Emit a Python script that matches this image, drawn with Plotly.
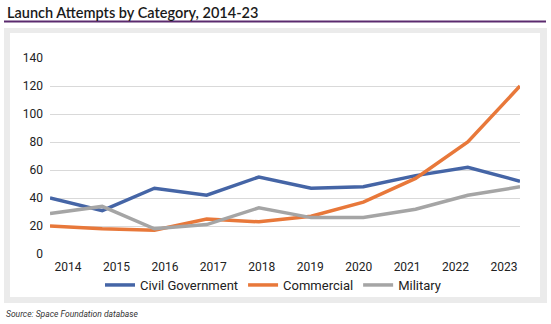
import plotly.graph_objects as go

# Launch attempts by category, 2014-2023
years = [2014, 2015, 2016, 2017, 2018, 2019, 2020, 2021, 2022, 2023]
civil_government = [40, 31, 47, 42, 55, 47, 48, 56, 62, 52]
commercial = [20, 18, 17, 25, 23, 27, 37, 54, 80, 120]
military = [29, 34, 18, 21, 33, 26, 26, 32, 42, 48]
y_ticks = [0, 20, 40, 60, 80, 100, 120, 140]

W, H = 551, 324
L, R, T, B = 50, 31, 58, 70
PW, PH = W - L - R, H - T - B


def px(x):
    return (x - L) / PW


def py(y):
    return (H - B - y) / PH


TICK_FONT = dict(family="Liberation Sans Narrow, Roboto, sans-serif", size=12, color="#222222")

fig = go.Figure()
series = [
    ("Civil Government", civil_government, "#4565A6"),
    ("Commercial", commercial, "#E8783A"),
    ("Military", military, "#A5A5A5"),
]
for name, vals, color in series:
    fig.add_trace(go.Scatter(
        x=years, y=vals, name=name, mode="lines",
        line=dict(color=color, width=3.5),
    ))

# year labels sit on their own axis beneath the plot
fig.add_trace(go.Scatter(x=years, y=[None] * len(years), xaxis="x2",
                         showlegend=False, hoverinfo="skip"))

fig.update_layout(
    width=W, height=H,
    margin=dict(l=L, r=R, t=T, b=B),
    paper_bgcolor="white",
    plot_bgcolor="rgba(0,0,0,0)",
    showlegend=True,
    legend=dict(
        orientation="h", x=px(100), xanchor="left", y=py(285), yanchor="middle",
        font=dict(family="Liberation Sans Narrow, Roboto, sans-serif", size=13, color="#222222"),
        bgcolor="rgba(0,0,0,0)", itemwidth=30, tracegroupgap=0,
    ),
    xaxis=dict(
        range=[2014, 2023], showgrid=False, zeroline=False,
        showticklabels=False, showline=False, fixedrange=True,
    ),
    xaxis2=dict(
        overlaying="x", anchor="y", side="bottom",
        range=[2013.6284, 2023.3303],
        tickvals=years, ticktext=[str(y) for y in years],
        showgrid=False, zeroline=False, showline=False,
        tickfont=TICK_FONT, ticks="", ticklabelstandoff=4,
    ),
    yaxis=dict(
        range=[0, 140], tickvals=y_ticks,
        showgrid=True, gridcolor="#D9D9D9", gridwidth=1,
        zeroline=False, showline=False, ticks="",
        tickfont=TICK_FONT, ticklabelstandoff=6,
    ),
    shapes=[
        dict(type="rect", xref="paper", yref="paper", layer="below",
             x0=px(4), x1=px(547), y0=py(303), y1=py(28),
             fillcolor="#EBEBEB", line=dict(width=0)),
        dict(type="rect", xref="paper", yref="paper", layer="below",
             x0=px(10), x1=px(540), y0=py(297), y1=py(33),
             fillcolor="#FFFFFF", line=dict(width=0)),
        dict(type="line", xref="paper", yref="paper",
             x0=px(4), x1=px(546), y0=py(21.5), y1=py(21.5),
             line=dict(color="#5B2A6E", width=2)),
    ],
    annotations=[
        dict(text="Launch Attempts by Category, 2014-23", xref="paper", yref="paper",
             x=px(5), y=py(12), xanchor="left", yanchor="middle", showarrow=False,
             font=dict(family="Lato, sans-serif", size=14.5, color="#1A1A1A", weight=600)),
        dict(text="<i>Source: Space Foundation database</i>", xref="paper", yref="paper",
             x=px(4), y=py(314), xanchor="left", yanchor="middle", showarrow=False,
             font=dict(family="Liberation Sans Narrow, Roboto, sans-serif", size=8.5, color="#333333")),
    ],
)

fig.write_html("out.html")
